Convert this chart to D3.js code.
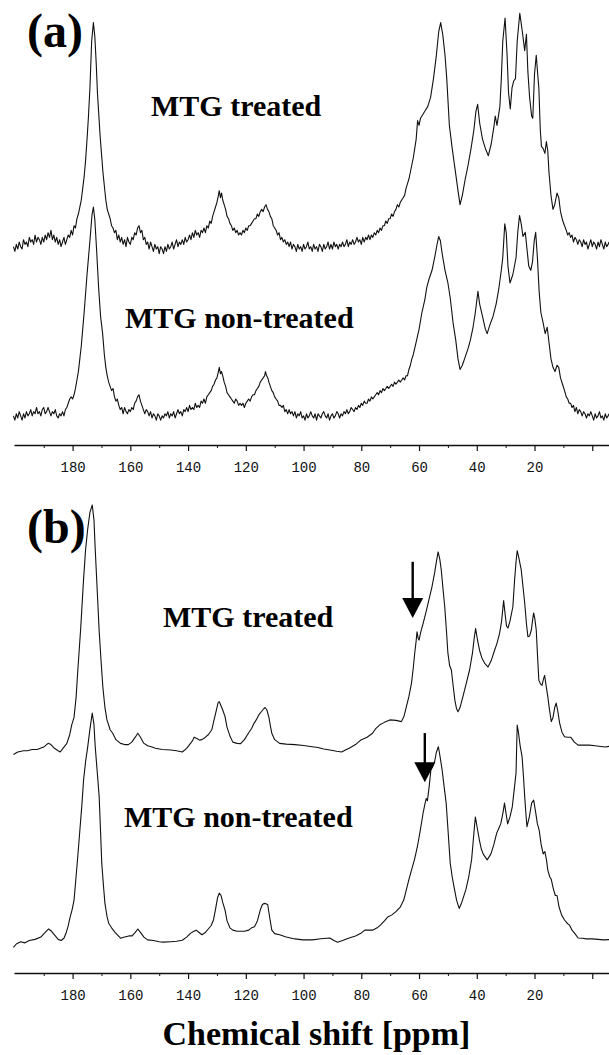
<!DOCTYPE html>
<html><head><meta charset="utf-8">
<script src="https://cdn.jsdelivr.net/npm/d3@7"></script>
<style>html,body{margin:0;padding:0;background:#fff}</style>
</head><body>
<svg id="c" width="609" height="1055"></svg>
<script>
// ---- data: [ppm, relative intensity] ----
const aTreated = [
[200.5,0],[200,-2],[199.5,1],[199,-1],[198.5,2],[198,0],[197.5,-1],[197,3],[196.5,1],[196,2],[195.5,0],[195,4],[194.5,2],[194,3],[193.5,1],[193,5],[192.5,2],[192,4],[191.5,3],[191,1],[190.5,4],[190,2],[189.5,5],[189,3],[188.5,6],[188,4],[187.5,7],[187,3],[186.5,5],[186,2],[185.5,4],[185,1],[184.5,3],[184,0],[183.5,2],[183,4],[182.5,1],[182,3],[181.5,5],[181,4],[180.5,7],[180,5],[179.5,9],[179,8],[178.5,12],[178,14],[177.5,17],[177,20],[176.5,25],[176,30],[175.5,37],[175,46],[174.5,56],[174,68],[173.4,88],[172.8,96],[172.3,90],[171.8,78],[171.4,66],[171,58],[170.5,48],[170,40],[169.5,32],[169,26],[168.5,20],[168,16],[167.5,14],[167,12],[166.5,9],[166,8],[165.5,6],[165,7],[164.5,3],[164,5],[163.5,2],[163,4],[162.5,1],[162,3],[161.5,0],[161,4],[160.5,2],[160,1],[159.5,4],[159,3],[158.5,6],[158,5],[157.5,8],[157,9],[156.5,6],[156,7],[155.5,3],[155,4],[154.5,1],[154,2],[153.5,-1],[153,2],[152.5,0],[152,-2],[151.5,1],[151,-1],[150.5,0],[150,-3],[149.5,0],[149,-1],[148.5,-3],[148,0],[147.5,-2],[147,1],[146.5,-1],[146,0],[145.5,2],[145,-1],[144.5,1],[144,3],[143.5,0],[143,2],[142.5,1],[142,3],[141.5,1],[141,4],[140.5,2],[140,3],[139.5,5],[139,3],[138.5,6],[138,4],[137.5,7],[137,5],[136.5,6],[136,4],[135.5,7],[135,6],[134.5,8],[134,6],[133.5,9],[133,8],[132.5,11],[132,10],[131.5,13],[131,15],[130.5,17],[130,19],[129.5,22],[129.2,24],[128.8,21],[128.4,23],[128,20],[127.5,18],[127,16],[126.5,13],[126,12],[125.5,10],[125,9],[124.5,7],[124,8],[123.5,6],[123,7],[122.5,5],[122,6],[121.5,5],[121,7],[120.5,6],[120,8],[119.5,7],[119,9],[118.5,9],[118,10],[117.5,11],[117,12],[116.5,12],[116,14],[115.5,13],[115,15],[114.5,16],[114,15],[113.5,17],[113,18],[112.5,16],[112,15],[111.5,13],[111,12],[110.5,9],[110,8],[109.5,7],[109,5],[108.5,6],[108,3],[107.5,4],[107,2],[106.5,3],[106,1],[105.5,2],[105,0],[104.5,2],[104,-1],[103.5,1],[103,0],[102.5,-2],[102,1],[101.5,-1],[101,0],[100.5,-2],[100,1],[99.5,-1],[99,0],[98.5,2],[98,-1],[97.5,0],[97,-2],[96.5,1],[96,-1],[95.5,0],[95,-2],[94.5,1],[94,0],[93.5,-2],[93,1],[92.5,-1],[92,0],[91.5,2],[91,-1],[90.5,1],[90,-1],[89.5,2],[89,0],[88.5,1],[88,-1],[87.5,1],[87,0],[86.5,2],[86,0],[85.5,1],[85,3],[84.5,0],[84,2],[83.5,1],[83,3],[82.5,1],[82,2],[81.5,4],[81,2],[80.5,3],[80,1],[79.5,4],[79,2],[78.5,4],[78,3],[77.5,5],[77,3],[76.5,5],[76,4],[75.5,6],[75,5],[74.5,7],[74,6],[73.5,8],[73,7],[72.5,9],[72,9],[71.5,11],[71,10],[70.5,12],[70,12],[69.5,14],[69,13],[68.5,15],[68,16],[67.5,18],[67,17],[66.5,19],[66,20],[65.5,21],[65,22],[64.5,25],[64,27],[63.5,29],[63,32],[62.5,35],[62,38],[61.5,42],[61,46],[60.5,54],[60,52],[59.5,55],[59,56],[58,58],[57,60],[56,64],[55,72],[54,82],[53.2,92],[52.5,96],[51.8,91],[51,82],[50.4,72],[49.5,52],[48.5,42],[47.5,33],[46.5,24],[45.8,18],[45,22],[44,29],[43,35],[42,42],[41,50],[40.3,58],[39.7,61],[39,53],[38,46],[37,42],[36,39],[35,44],[34,52],[33.6,56],[33,52],[32,60],[31.5,72],[31,88],[30.2,98],[29.5,82],[29,66],[28.4,59],[27.8,68],[27.2,71],[26.6,72],[26,88],[25.1,100],[24.2,92],[23.4,84],[22.8,91],[22.3,75],[21.7,64],[21,56],[20.6,55],[20,74],[19.4,82],[18.9,74],[18.5,68],[18,50],[17.6,43],[17,42],[16.4,40],[15.9,45],[15.4,41],[15,32],[14.3,22],[13.6,16],[13,18],[12.2,23],[11.6,21],[11,15],[10.2,11],[9.6,9],[9,7],[8.5,5],[8,6],[7.5,4],[7,5],[6.5,2],[6,4],[5.5,3],[5,1],[4.5,3],[4,2],[3.5,0],[3,3],[2.5,1],[2,2],[1.5,-1],[1,1],[0.5,3],[0,0],[-0.5,2],[-1,1],[-1.5,-1],[-2,2],[-2.5,0],[-3,3],[-3.5,1],[-4,-1],[-4.5,2],[-5,0],[-5.5,1],[-5.8,2]
];
const aNonTreated = [
[200.5,1],[200,-1],[199.5,2],[199,0],[198.5,3],[198,1],[197.5,-1],[197,2],[196.5,0],[196,3],[195.5,1],[195,2],[194.5,4],[194,1],[193.5,3],[193,2],[192.5,5],[192,2],[191.5,3],[191,1],[190.5,4],[190,5],[189.5,2],[189,3],[188.5,5],[188,3],[187.5,1],[187,3],[186.5,2],[186,4],[185.5,1],[185,0],[184.5,2],[184,1],[183.5,3],[183,1],[182.5,4],[182,5],[181.5,7],[181,9],[180.5,10],[180,9],[179.5,11],[179,14],[178.5,18],[178,22],[177.5,28],[177,34],[176.5,42],[176,50],[175.5,59],[175,68],[174.5,76],[174,84],[173.3,96],[172.8,100],[172.3,94],[171.7,80],[171,62],[170.3,48],[169.6,40],[169,30],[168.5,24],[168,20],[167.5,17],[167,15],[166.5,13],[166,14],[165.5,10],[165,8],[164.5,9],[164,6],[163.5,4],[163,5],[162.5,2],[162,5],[161.5,3],[161,2],[160.5,4],[160,3],[159.5,5],[159,4],[158.5,7],[158,8],[157.5,10],[157,11],[156.5,8],[156,6],[155.5,4],[155,2],[154.5,4],[154,3],[153.5,1],[153,3],[152.5,0],[152,2],[151.5,1],[151,-1],[150.5,2],[150,1],[149.5,-1],[149,1],[148.5,0],[148,2],[147.5,1],[147,3],[146.5,0],[146,2],[145.5,1],[145,3],[144.5,0],[144,2],[143.5,4],[143,2],[142.5,3],[142,1],[141.5,4],[141,3],[140.5,5],[140,3],[139.5,6],[139,4],[138.5,5],[138,4],[137.5,7],[137,5],[136.5,6],[136,5],[135.5,8],[135,7],[134.5,9],[134,7],[133.5,10],[133,11],[132.5,12],[132,13],[131.5,15],[131,16],[130.5,18],[130,19],[129.5,22],[129.2,24],[128.8,21],[128.4,22],[128,20],[127.5,17],[127,15],[126.5,12],[126,11],[125.5,10],[125,9],[124.5,8],[124,7],[123.5,9],[123,8],[122.5,6],[122,7],[121.5,6],[121,7],[120.5,5],[120,7],[119.5,8],[119,9],[118.5,8],[118,10],[117.5,11],[117,11],[116.5,13],[116,14],[115.5,15],[115,17],[114.5,18],[114,19],[113.5,20],[113.2,22],[112.8,20],[112.4,19],[112,17],[111.5,15],[111,13],[110.5,12],[110,10],[109.5,9],[109,8],[108.5,6],[108,6],[107.5,5],[107,6],[106.5,3],[106,4],[105.5,2],[105,4],[104.5,2],[104,3],[103.5,1],[103,3],[102.5,0],[102,2],[101.5,1],[101,3],[100.5,0],[100,1],[99.5,-1],[99,2],[98.5,0],[98,1],[97.5,3],[97,1],[96.5,0],[96,2],[95.5,-1],[95,2],[94.5,1],[94,0],[93.5,2],[93,3],[92.5,1],[92,0],[91.5,2],[91,-1],[90.5,1],[90,2],[89.5,0],[89,1],[88.5,3],[88,2],[87.5,0],[87,2],[86.5,1],[86,3],[85.5,2],[85,4],[84.5,2],[84,3],[83.5,5],[83,4],[82.5,3],[82,5],[81.5,4],[81,6],[80.5,5],[80,7],[79.5,6],[79,8],[78.5,7],[78,7],[77.5,9],[77,8],[76.5,10],[76,9],[75.5,10],[75,11],[74.5,12],[74,11],[73.5,13],[73,12],[72.5,14],[72,13],[71.5,14],[71,15],[70.5,14],[70,15],[69.5,16],[69,15],[68.5,17],[68,16],[67.5,17],[67,18],[66.5,17],[66,18],[65.5,19],[65,18],[64.5,20],[64,20],[63.5,23],[63,25],[62.5,28],[62,30],[61.5,33],[61,36],[60.5,39],[60,42],[59.5,46],[59,50],[58.5,53],[58,56],[57.3,62],[56.5,66],[55.5,70],[54.6,76],[53.8,82],[53.2,86],[52.6,84],[52,78],[51,70],[50,64],[49.2,57],[48.2,45],[47.3,37],[46.5,28],[45.8,23],[45,25],[44,29],[43,33],[42.2,37],[41.3,43],[40.5,50],[39.6,60],[39,54],[38,48],[37,42],[36.4,40],[35.5,44],[34.4,48],[33.3,54],[32.4,61],[31.5,70],[31,76],[30.3,92],[29.8,88],[29.2,72],[28.5,64],[27.5,68],[26.4,76],[25.8,88],[25.2,96],[24.6,92],[24,86],[23.2,88],[22.6,80],[22,72],[21.3,70],[20.7,74],[20.1,84],[19.6,88],[19,76],[18.4,60],[17.8,50],[17,45],[16.3,40],[15.6,43],[15,36],[14.3,28],[13.6,24],[12.9,22],[12.2,25],[11.6,24],[11,19],[10.3,16],[9.6,13],[9,10],[8.5,9],[8,7],[7.5,7],[7,5],[6.5,6],[6,3],[5.5,5],[5,2],[4.5,4],[4,3],[3.5,1],[3,3],[2.5,2],[2,0],[1.5,2],[1,1],[0.5,3],[0,1],[-0.5,-1],[-1,2],[-1.5,0],[-2,1],[-2.5,3],[-3,0],[-3.5,1],[-4,-1],[-4.5,2],[-5,0],[-5.5,1],[-5.8,2]
];
const bTreated = [
[200.5,-1],[199,0],[197,0.5],[195.7,0.5],[194,1],[192.3,1],[190,2],[188.5,3.5],[187.5,3],[186.3,1.5],[185,0.5],[184.3,0],[183,2],[182,3.5],[181,7],[180.3,11],[179.5,14],[178.8,22],[178.2,33],[177.2,50],[176.2,70],[175.5,82],[174.8,90],[174,97],[173.2,100],[172.6,94],[172.2,83],[171.5,66],[170.8,49],[170.1,36],[169.5,26],[168.8,18],[168.1,13],[167,9],[166.1,7.6],[165,5],[163.4,3.5],[162,3],[160.7,3],[159.5,4],[158.3,6],[157.4,7.6],[156.5,6],[155.4,3.6],[154,2.5],[152.5,2],[151.3,1.5],[149,1],[146,0.8],[144,0.5],[142,0],[140.5,1.5],[139.5,3],[138.5,4.5],[137.9,6],[137,5.5],[136,4.8],[135.2,5],[134,6],[133,7],[131.8,9],[131,13],[130.2,17],[129.6,20],[129.2,20.4],[128.7,19],[128,17],[127.2,14.3],[126.5,10],[125.5,6.5],[124.5,4],[123,3.5],[121.8,3.4],[120.5,5],[119.1,7.6],[118,9.5],[117.2,11.5],[116.4,13],[115.5,15],[114.5,16.5],[113.8,17.5],[113.3,18],[112.7,17],[112,14],[111.4,10],[111,7.6],[110,5],[108.3,3.5],[106,3.2],[103,3],[100,2.6],[97.6,2.2],[95,1.8],[93,1.2],[90.9,0.8],[88.5,0.3],[86.8,0],[85.5,0.8],[84.2,1.5],[82,3],[80.1,4.9],[78,6],[76.1,7.6],[75,9.5],[73.6,11],[72,12],[70.1,13],[68,12.8],[66.1,12.3],[65.2,14.5],[64.4,18.3],[63.5,22.5],[62.6,28],[62,34],[61.5,40],[61,45],[60.7,48.7],[60.3,46],[60,45.3],[59.3,49],[58.6,52],[57.5,57],[56.3,63],[55.5,67],[54.6,72.5],[54,77],[53.4,81],[52.8,78],[52.3,73.7],[51.7,66],[51.1,58.8],[50.5,49],[50,40],[49.4,35],[48.8,33.2],[48.2,27],[47.6,21],[47,17.5],[46.5,16.3],[45.8,18],[44.8,22.4],[43.6,28],[42.5,33.2],[41.5,40],[40.9,46],[40.4,50],[39.7,45],[39,41],[38.2,38],[37.3,36],[36.1,34.4],[35,37],[33.8,41.3],[33,44],[32.1,48],[31.4,53],[30.7,61.3],[30.2,56],[29.7,51],[29.2,50.2],[28.5,53],[27.5,58.8],[26.9,69.6],[26.4,77],[26,81.5],[25.5,79],[24.6,73.7],[24,67],[23.4,60.3],[22.8,52],[22.3,46.7],[21.7,47],[21.1,49.4],[20.6,54],[20.3,56.3],[19.9,54],[19.4,49.4],[19,40],[18.5,29],[17.9,27.5],[17.4,27],[16.9,29.5],[16.5,31],[16,27],[15.4,22.4],[14.8,17],[14.2,12.3],[13.6,14],[13,18],[12.5,19.8],[12,17],[11.3,11.7],[10.5,8],[9.6,6.2],[8.5,6],[7.5,6],[6.2,4],[4.9,2.8],[3,2.8],[1,2.8],[-1,2.5],[-3,2.2],[-4.5,2],[-5.8,2.3]
];
const bNonTreated = [
[200.5,-1.5],[199.5,0],[198,1],[196.5,0.5],[195,1.5],[193,2],[191,3],[189.5,5],[188.3,6.5],[187.3,5.5],[186,3.5],[185,2],[184,1.5],[183,2.5],[182.2,5],[181.6,7.5],[180.8,12],[180.2,14.7],[179.5,19],[178.9,27.7],[178.2,38],[177.5,49],[176.8,60],[176.2,71],[175.5,79],[174.8,85],[174,93],[173.2,100],[172.6,95],[172.2,86],[171.5,75],[170.8,63.8],[170.3,48],[169.9,35],[169.3,25],[168.8,17.6],[168.1,12],[167.5,9],[166.5,7],[165.3,5],[163.4,2.5],[162,3],[160.5,3.5],[159.4,3.5],[158.3,5],[157.4,6.5],[156.5,5],[155.3,3],[154,1.8],[152,1.5],[150,1],[148.7,0.8],[146,1],[144,1.2],[142,1.6],[140.5,3],[139.2,4.6],[138,5.5],[137.2,6],[136.2,5],[135.2,4],[134,5],[133,6.5],[132,8],[131.2,10.4],[130.5,15],[129.8,20],[129.2,22],[128.6,21],[128,18],[127.2,14.7],[126.5,10],[125.5,7],[124.5,6],[123,5.5],[121.8,5.5],[120.5,5.5],[119,6],[118,7],[117,7.5],[116,10],[115,14.7],[114.3,17],[113.7,17.6],[113,17.4],[112.4,17],[111.8,12],[111,6],[110,4.5],[108.3,4],[106,3],[103,2.2],[100.2,1.8],[97,1.8],[94,2.3],[90.9,2.6],[89.5,1.5],[88.2,0.8],[86.5,1.5],[84.2,2.6],[82,3.5],[80.3,4.5],[78.8,6],[76.1,6],[74.5,7],[73.4,8.2],[72,10],[70.7,11.8],[69.5,12.5],[68,14],[66.5,16],[65.3,19],[64.3,24],[63.5,28],[62.6,32],[61.5,37],[60.6,42],[59.6,49],[58.6,56.6],[57.9,61],[57.5,63],[57.1,62],[56.5,68],[55.9,75.3],[55.2,77],[54.6,79],[54,83],[53.3,85.4],[52.7,81],[52,75.3],[51.3,68],[50.6,61],[50,50],[49.2,35],[48.5,29],[47.9,24.8],[47,19],[46.1,15.4],[45.2,18],[43.8,23.4],[42.8,29],[41.8,36.4],[41.2,45],[40.5,55],[39.8,50],[39.1,45],[38.4,41],[37.8,39],[36.4,36.4],[35.1,39],[34.1,43],[33.1,48],[32.4,50],[31.7,52],[30.9,57],[30.4,61],[29.8,56],[29.3,52],[28.5,55],[27.7,59.4],[27.2,65],[26.4,74],[26,94.8],[25.6,92],[25,86],[24.3,81],[23.8,72],[23.4,63.8],[22.9,55],[22.6,50.8],[21.8,55],[21,61],[20.3,62.3],[19.6,57],[19,52],[18.4,49.4],[17.7,43],[17,39],[16.4,40],[15.8,36],[15.4,32],[14.7,29],[14.2,28],[13.5,24],[12.8,21],[12.2,21],[11.5,16],[10.6,12.5],[9.6,10.4],[8.7,9],[7.9,8.2],[7,6],[6,4.5],[4.9,2.6],[3.5,2.5],[2,2.2],[0,2.2],[-2,2],[-4,1.8],[-5.8,1.9]
];
const majorTicks = [180,160,140,120,100,80,60,40,20,0];
const tickLabels = ["180","160","140","120","100","80","60","40","20",""];
const minorTicks = [190,170,150,130,110,90,70,50,30,10];
const panelLabels = ["(a)","(b)"];
const seriesNames = ["MTG treated","MTG non-treated"];
const xTitle = "Chemical shift [ppm]";
// arrows in panel (b): [ppm, top intensity, tip intensity]
const arrowTreated = [62.2, 77, 54.3];
const arrowNonTreated = [58.0, 91.3, 70];

// ---- layout ----
const svg = d3.select("#c");
const x = d3.scaleLinear().domain([200.3, -5.8]).range([14, 609]);
const panels = [
  {label: panelLabels[0], labelY: 47, axisY: 445,
   traces: [
     {data: aTreated, base: 246.7, top: 13.3, name: seriesNames[0], nx: 151, ny: 116},
     {data: aNonTreated, base: 418, top: 207, name: seriesNames[1], nx: 125, ny: 328}
   ]},
  {label: panelLabels[1], labelY: 543, axisY: 973,
   traces: [
     {data: bTreated, base: 752, top: 505, name: seriesNames[0], nx: 163, ny: 627, arrow: arrowTreated},
     {data: bNonTreated, base: 944, top: 713, name: seriesNames[1], nx: 124, ny: 827, arrow: arrowNonTreated}
   ]}
];

const serif = "'Liberation Serif','Times New Roman',Times,serif";

panels.forEach(p => {
  svg.append("text").attr("x", 27).attr("y", p.labelY)
    .attr("font-family", serif).attr("font-weight", "bold").attr("font-size", 48)
    .attr("fill", "#000").text(p.label);

  p.traces.forEach(t => {
    const y = d3.scaleLinear().domain([0, 100]).range([t.base, t.top]);
    const line = d3.line().x(d => x(d[0])).y(d => y(d[1]));
    svg.append("path").datum(t.data).attr("d", line)
      .attr("fill", "none").attr("stroke", "#111").attr("stroke-width", 1.1)
      .attr("stroke-linejoin", "round");
    svg.append("text").attr("x", t.nx).attr("y", t.ny)
      .attr("font-family", serif).attr("font-weight", "bold").attr("font-size", 30)
      .attr("fill", "#000").text(t.name);
    if (t.arrow) {
      const ax = x(t.arrow[0]), yTop = y(t.arrow[1]), yTip = y(t.arrow[2]);
      const headH = 20, headW = 10.5;
      svg.append("line").attr("x1", ax).attr("x2", ax).attr("y1", yTop).attr("y2", yTip - headH + 2)
        .attr("stroke", "#000").attr("stroke-width", 2.4);
      svg.append("path")
        .attr("d", `M${ax - headW},${yTip - headH}L${ax + headW},${yTip - headH}L${ax},${yTip}Z`)
        .attr("fill", "#000");
    }
  });

  const g = svg.append("g").attr("transform", `translate(0,${p.axisY})`);
  const axis = d3.axisBottom(x).tickValues(majorTicks)
    .tickFormat((d, i) => tickLabels[i]).tickSizeInner(6).tickSizeOuter(0).tickPadding(8);
  g.call(axis);
  g.select(".domain").attr("stroke", "#111").attr("stroke-width", 1.4);
  g.selectAll(".tick line").attr("stroke", "#111").attr("stroke-width", 1.2);
  g.selectAll(".tick text").attr("font-family", "'Liberation Mono','DejaVu Sans Mono',monospace")
    .attr("font-size", 14).attr("fill", "#111").attr("y", 27).attr("dy", 0);
  const gm = svg.append("g").attr("transform", `translate(0,${p.axisY})`);
  gm.call(d3.axisBottom(x).tickValues(minorTicks).tickFormat("").tickSizeInner(3).tickSizeOuter(0));
  gm.select(".domain").remove();
  gm.selectAll(".tick line").attr("stroke", "#111").attr("stroke-width", 1);
});

svg.append("text").attr("x", 316.5).attr("y", 1045).attr("text-anchor", "middle")
  .attr("font-family", serif).attr("font-weight", "bold").attr("font-size", 34)
  .attr("fill", "#000").text(xTitle);
</script>
</body></html>
